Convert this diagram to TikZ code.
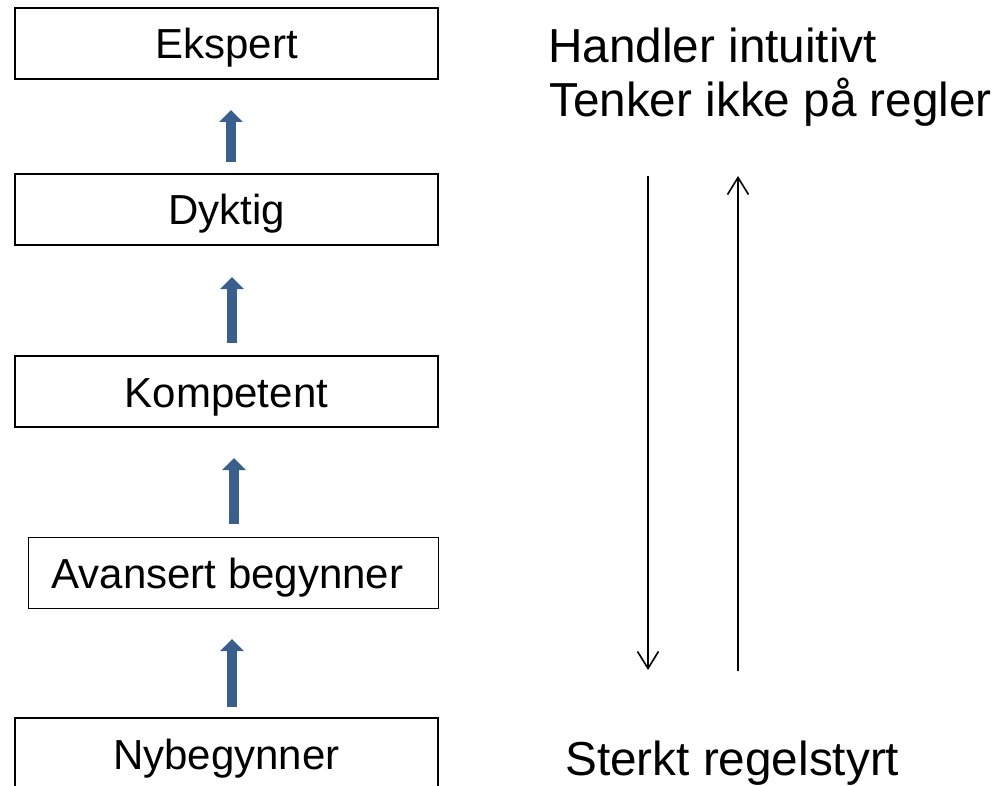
\documentclass[tikz,border=0pt]{standalone}
\usepackage{fontspec}
\setmainfont{Liberation Sans}
\usetikzlibrary{arrows.meta}
\definecolor{stepblue}{RGB}{58,95,140}
\begin{document}
\begin{tikzpicture}[x=1pt,y=-1pt,
  stagebox/.style={draw=black, line width=1.5pt, rectangle, inner sep=0pt,
    minimum width=423pt, minimum height=71pt, text height=31pt, text depth=0pt,
    font=\fontsize{42}{50}\selectfont},
  sidetext/.style={inner sep=0pt, anchor=base west, font=\fontsize{47.7}{54}\selectfont},
  uparrow/.style={draw=stepblue, line width=10pt, -{Triangle[length=12pt,width=23pt]}},
  thinarrow/.style={draw=black, line width=1.6pt, -{Straight Barb[length=17pt,width=21pt,line width=1.6pt]}}
]
\clip (0,0) rectangle (998,786);
\fill[white] (0,0) rectangle (998,786);

% stage boxes
\node[stagebox] (ekspert) at (226.5,43.5) {Ekspert};
\node[stagebox] (dyktig) at (226.5,209.5) {Dyktig};
\node[stagebox] (kompetent) at (226.5,391.5) {Kompetent};
\node[stagebox, minimum width=410pt] (avansert) at (233.5,573) {Avansert begynner\kern12pt};
\node[stagebox] (nybegynner) at (226.5,753.5) {Nybegynner};

% blue arrow end points
\coordinate (a1s) at (231,162);
\coordinate (a1e) at (231,110);
\coordinate (a2s) at (232,343);
\coordinate (a2e) at (232,277);
\coordinate (a3s) at (234,524);
\coordinate (a3e) at (234,458);
\coordinate (a4s) at (232,707);
\coordinate (a4e) at (232,639);

\draw[uparrow] (a1s) -- (a1e);
\draw[uparrow] (a2s) -- (a2e);
\draw[uparrow] (a3s) -- (a3e);
\draw[uparrow] (a4s) -- (a4e);

% side texts
\node[sidetext] (handler) at (548,63) {Handler intuitivt};
\node[sidetext] (tenker) at (549,117) {Tenker ikke på regler};
\node[sidetext] (sterkt) at (565,775) {Sterkt regelstyrt};

% thin arrows
\coordinate (downs) at (648,176);
\coordinate (downe) at (648,670);
\coordinate (ups) at (738,671);
\coordinate (upe) at (738,176);
\draw[thinarrow] (downs) -- (downe);
\draw[thinarrow] (ups) -- (upe);
\end{tikzpicture}
\end{document}
